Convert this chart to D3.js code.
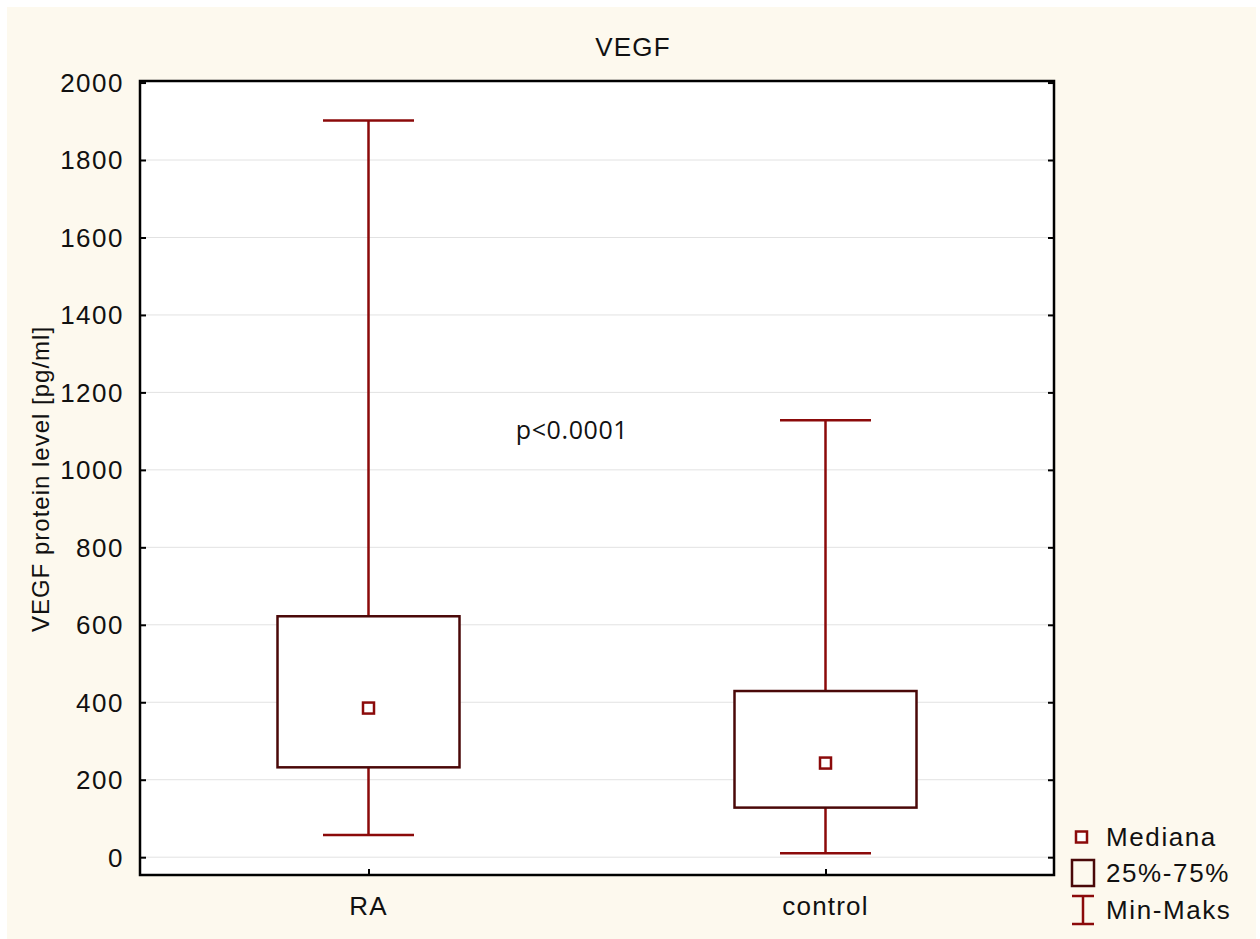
<html>
<head>
<meta charset="utf-8">
<title>VEGF</title>
<script src="https://d3js.org/d3.v7.min.js"></script>
<style>
  body { margin: 0; background: #ffffff; }
  text { font-family: "Liberation Sans", Arial, sans-serif; fill: #111; }
</style>
</head>
<body>
<div id="chart"></div>
<script>
// data
var groups = ["RA", "control"];
var minVals = [57, 10];
var q1Vals = [232, 128];
var medianVals = [385, 243];
var q3Vals = [622, 429];
var maxVals = [1902, 1128];
var yTicks = [0, 200, 400, 600, 800, 1000, 1200, 1400, 1600, 1800, 2000];
var legendLabels = ["Mediana", "25%-75%", "Min-Maks"];

var W = 1260, H = 939;
var plot = {left: 140, top: 81, right: 1054, bottom: 875};

var svg = d3.select("#chart").append("svg")
    .attr("width", W)
    .attr("height", H);

// cream background panel
svg.append("rect")
    .attr("x", 7).attr("y", 7)
    .attr("width", 1249).attr("height", 932)
    .attr("fill", "#fdf9ee");

var x = d3.scalePoint().domain(groups).range([plot.left, plot.right]).padding(0.5);
var y = d3.scaleLinear().domain([-46, 2004]).range([plot.bottom, plot.top]);

// plot area
svg.append("rect")
    .attr("x", plot.left).attr("y", plot.top)
    .attr("width", plot.right - plot.left).attr("height", plot.bottom - plot.top)
    .attr("fill", "#ffffff");

// grid lines
svg.append("g").selectAll("line")
    .data(yTicks.filter(function(d) { return d < 2000; }))
    .enter().append("line")
    .attr("x1", plot.left).attr("x2", plot.right)
    .attr("y1", function(d) { return y(d); })
    .attr("y2", function(d) { return y(d); })
    .attr("stroke", "#e2e2e2")
    .attr("stroke-width", 1);

// left axis, ticks pointing in
var yAxisL = svg.append("g")
    .attr("transform", "translate(" + plot.left + ",0)")
    .call(d3.axisRight(y).tickValues(yTicks).tickSize(6).tickFormat(""));
yAxisL.select(".domain").remove();
yAxisL.selectAll(".tick line").attr("stroke", "#000").attr("stroke-width", 2);

// tick labels
svg.append("g").selectAll("text")
    .data(yTicks)
    .enter().append("text")
    .attr("x", 124)
    .attr("y", function(d) { return y(d); })
    .attr("dy", "0.36em")
    .attr("text-anchor", "end")
    .style("font-size", "26px")
    .style("letter-spacing", "1.5px")
    .text(function(d) { return d; });

// right axis, ticks pointing in
var yAxisR = svg.append("g")
    .attr("transform", "translate(" + plot.right + ",0)")
    .call(d3.axisLeft(y).tickValues(yTicks).tickSize(6).tickFormat(""));
yAxisR.select(".domain").remove();
yAxisR.selectAll(".tick line").attr("stroke", "#000").attr("stroke-width", 2);

// bottom axis
var xAxis = svg.append("g")
    .attr("transform", "translate(0," + plot.bottom + ")")
    .call(d3.axisTop(x).tickSize(6).tickFormat(""));
xAxis.select(".domain").remove();
xAxis.selectAll(".tick line").attr("stroke", "#000").attr("stroke-width", 2);

svg.append("g").selectAll("text")
    .data(groups)
    .enter().append("text")
    .attr("x", function(d) { return x(d); })
    .attr("y", 915)
    .attr("text-anchor", "middle")
    .style("font-size", "26px")
    .style("letter-spacing", "1.2px")
    .text(function(d) { return d; });

// frame
svg.append("rect")
    .attr("x", plot.left).attr("y", plot.top)
    .attr("width", plot.right - plot.left).attr("height", plot.bottom - plot.top)
    .attr("fill", "none")
    .attr("stroke", "#000")
    .attr("stroke-width", 2.5);

// boxes
var whiskerColor = "#8b0a0a";
var boxColor = "#4a0808";
var boxW = 182, capW = 91, medS = 11;

var boxes = svg.append("g").selectAll("g")
    .data(groups)
    .enter().append("g");

boxes.append("line")
    .attr("x1", function(d) { return x(d); })
    .attr("x2", function(d) { return x(d); })
    .attr("y1", function(d, i) { return y(maxVals[i]); })
    .attr("y2", function(d, i) { return y(minVals[i]); })
    .attr("stroke", whiskerColor).attr("stroke-width", 2.5);

boxes.append("line")
    .attr("x1", function(d) { return x(d) - capW / 2; })
    .attr("x2", function(d) { return x(d) + capW / 2; })
    .attr("y1", function(d, i) { return y(maxVals[i]); })
    .attr("y2", function(d, i) { return y(maxVals[i]); })
    .attr("stroke", whiskerColor).attr("stroke-width", 2.5);

boxes.append("line")
    .attr("x1", function(d) { return x(d) - capW / 2; })
    .attr("x2", function(d) { return x(d) + capW / 2; })
    .attr("y1", function(d, i) { return y(minVals[i]); })
    .attr("y2", function(d, i) { return y(minVals[i]); })
    .attr("stroke", whiskerColor).attr("stroke-width", 2.5);

boxes.append("rect")
    .attr("x", function(d) { return x(d) - boxW / 2; })
    .attr("y", function(d, i) { return y(q3Vals[i]); })
    .attr("width", boxW)
    .attr("height", function(d, i) { return y(q1Vals[i]) - y(q3Vals[i]); })
    .attr("fill", "#ffffff")
    .attr("stroke", boxColor).attr("stroke-width", 2.5);

boxes.append("rect")
    .attr("x", function(d) { return x(d) - medS / 2; })
    .attr("y", function(d, i) { return y(medianVals[i]) - medS / 2; })
    .attr("width", medS).attr("height", medS)
    .attr("fill", "#ffffff")
    .attr("stroke", whiskerColor).attr("stroke-width", 2.5);

// title, labels
svg.append("text")
    .attr("x", 633).attr("y", 56)
    .attr("text-anchor", "middle")
    .style("font-size", "26px")
    .style("letter-spacing", "1.2px")
    .text("VEGF");

svg.append("text")
    .attr("transform", "translate(49,479) rotate(-90)")
    .attr("text-anchor", "middle")
    .style("font-size", "24px")
    .style("letter-spacing", "1px")
    .text("VEGF protein level [pg/ml]");

svg.append("text")
    .attr("x", 572).attr("y", 439)
    .attr("text-anchor", "middle")
    .style("font-family", "'Open Sans', sans-serif")
    .style("font-size", "25px")
    .style("letter-spacing", "0.6px")
    .text("p<0.0001");

// legend
var legY = [837, 873, 910];
var leg = svg.append("g");
leg.append("rect")
    .attr("x", 1076).attr("y", legY[0] - 5.5)
    .attr("width", 11).attr("height", 11)
    .attr("fill", "#fff").attr("stroke", whiskerColor).attr("stroke-width", 2.5);
leg.append("rect")
    .attr("x", 1072).attr("y", legY[1] - 13)
    .attr("width", 22).attr("height", 26)
    .attr("fill", "none").attr("stroke", boxColor).attr("stroke-width", 2.5);
leg.append("line")
    .attr("x1", 1072).attr("x2", 1094).attr("y1", 896).attr("y2", 896)
    .attr("stroke", whiskerColor).attr("stroke-width", 2.5);
leg.append("line")
    .attr("x1", 1072).attr("x2", 1094).attr("y1", 924).attr("y2", 924)
    .attr("stroke", whiskerColor).attr("stroke-width", 2.5);
leg.append("line")
    .attr("x1", 1083).attr("x2", 1083).attr("y1", 896).attr("y2", 924)
    .attr("stroke", whiskerColor).attr("stroke-width", 2.5);
leg.selectAll("text.leg")
    .data(legendLabels)
    .enter().append("text")
    .attr("class", "leg")
    .attr("x", 1106)
    .attr("y", function(d, i) { return legY[i]; })
    .attr("dy", "0.36em")
    .style("font-size", "26px")
    .style("letter-spacing", "1.6px")
    .text(function(d) { return d; });
</script>
</body>
</html>
